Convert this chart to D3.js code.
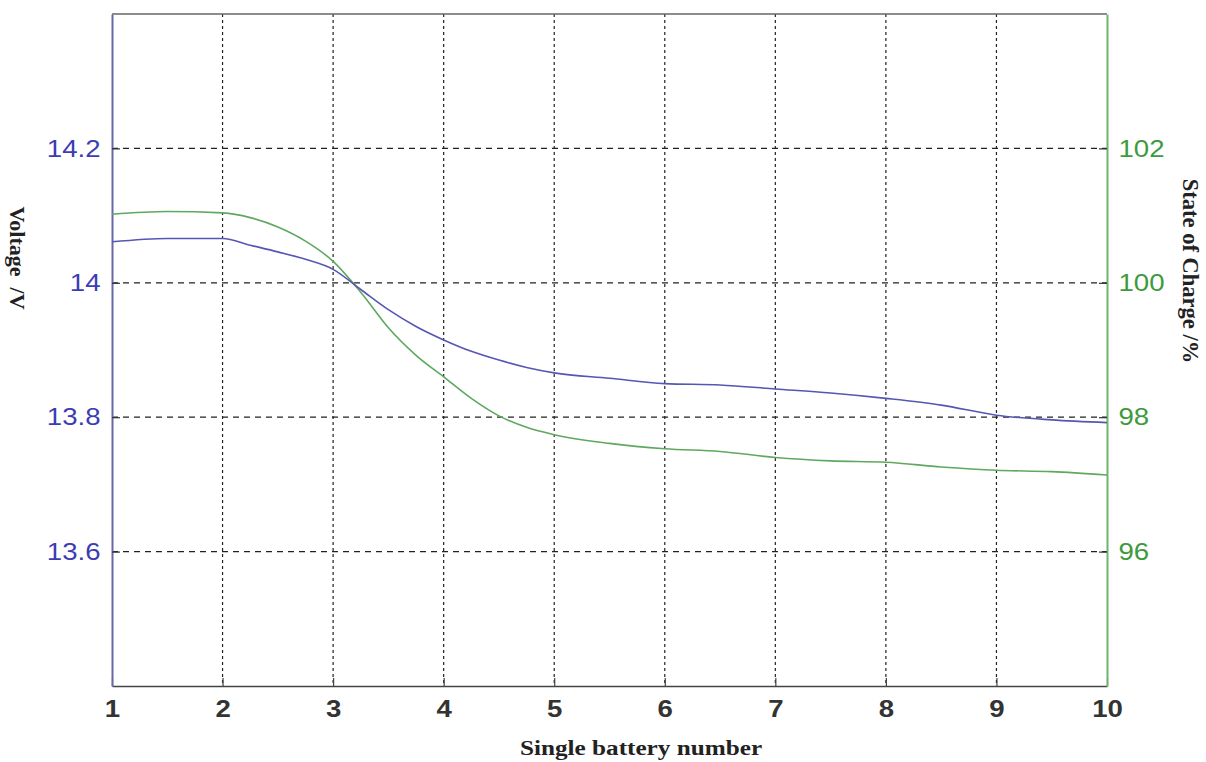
<!DOCTYPE html>
<html>
<head>
<meta charset="utf-8">
<script src="https://cdn.jsdelivr.net/npm/d3@7"></script>
<style>
  html, body { margin: 0; padding: 0; background: #fff; }
  svg { display: block; }
</style>
</head>
<body>
<svg id="chart" width="1206" height="762"></svg>
<script>
// ---- data ----
const batteryNumber = [1, 1.5, 2, 2.25, 2.5, 2.75, 3, 3.25, 3.5, 3.75, 4, 4.25, 4.5, 4.75, 5, 5.5, 6, 6.5, 7, 7.5, 8, 8.5, 9, 9.5, 10];
const voltage = [14.061, 14.066, 14.066, 14.056, 14.046, 14.035, 14.020, 13.990, 13.960, 13.935, 13.915, 13.898, 13.885, 13.874, 13.866, 13.858, 13.850, 13.848, 13.842, 13.836, 13.828, 13.818, 13.803, 13.796, 13.792];
const soc = [101.02, 101.06, 101.04, 100.97, 100.83, 100.62, 100.32, 99.86, 99.33, 98.92, 98.60, 98.28, 98.02, 97.85, 97.74, 97.61, 97.53, 97.49, 97.40, 97.35, 97.33, 97.26, 97.21, 97.19, 97.14];
const xTicks = [1, 2, 3, 4, 5, 6, 7, 8, 9, 10];
const voltageTicks = [13.6, 13.8, 14, 14.2];
const socTicks = [96, 98, 100, 102];
const xLabel = "Single battery number";
const leftLabel = "Voltage  /V";
const rightLabel = "State of Charge /%";

// ---- layout ----
const L = 112, R = 1107, T = 14, B = 686;
const stretch = 1.15;
const svg = d3.select("#chart");

const x = d3.scaleLinear().domain([1, 10]).range([L, R]);
const yV = d3.scaleLinear().domain([13.4, 14.4]).range([B, T]);
const yS = d3.scaleLinear().domain([94, 104]).range([B, T]);

const blue = "#5656b4", green = "#5fa85f";

// grid
const grid = svg.append("g");
grid.selectAll("line.v").data(xTicks.slice(1, -1)).join("line")
  .attr("x1", d => x(d)).attr("x2", d => x(d)).attr("y1", T).attr("y2", B)
  .attr("stroke", "#222").attr("stroke-width", 1.2).attr("stroke-dasharray", "3,3");
grid.selectAll("line.h").data(voltageTicks).join("line")
  .attr("x1", L).attr("x2", R).attr("y1", d => yV(d)).attr("y2", d => yV(d))
  .attr("stroke", "#222").attr("stroke-width", 1.2).attr("stroke-dasharray", "6,5");

// frame top
svg.append("line").attr("x1", L).attr("x2", R).attr("y1", T).attr("y2", T)
  .attr("stroke", "#666").attr("stroke-width", 1.5);

// x axis
const gx = svg.append("g").attr("transform", `translate(0,${B})`)
  .call(d3.axisBottom(x).tickValues(xTicks).tickFormat(d3.format("d")).tickSizeInner(-8).tickSizeOuter(0).tickPadding(14));
gx.select(".domain").attr("stroke", "#444").attr("stroke-width", 1.5);
gx.selectAll(".tick line").attr("stroke", "#444").attr("stroke-width", 1.2);
gx.selectAll(".tick text").attr("fill", "#333").attr("font-family", "Liberation Sans, Arial, sans-serif")
  .attr("font-size", 24).attr("font-weight", "bold").attr("transform", `scale(${stretch},1)`);

// left axis
const gl = svg.append("g").attr("transform", `translate(${L},0)`)
  .call(d3.axisLeft(yV).tickValues(voltageTicks).tickFormat(d => String(d)).tickSizeInner(-8).tickSizeOuter(0).tickPadding(10));
gl.select(".domain").attr("stroke", "#6868a8").attr("stroke-width", 2);
gl.selectAll(".tick line").attr("stroke", "#333").attr("stroke-width", 1.2);
gl.selectAll(".tick text").attr("fill", "#3c3cb4").attr("font-family", "Liberation Sans, Arial, sans-serif")
  .attr("font-size", 24).attr("transform", `scale(${stretch},1)`);

// right axis
const gr = svg.append("g").attr("transform", `translate(${R},0)`)
  .call(d3.axisRight(yS).tickValues(socTicks).tickFormat(d => String(d)).tickSizeInner(-8).tickSizeOuter(0).tickPadding(10));
gr.select(".domain").attr("stroke", "#6fb46f").attr("stroke-width", 2);
gr.selectAll(".tick line").attr("stroke", "#333").attr("stroke-width", 1.2);
gr.selectAll(".tick text").attr("fill", "#3d9a3d").attr("font-family", "Liberation Sans, Arial, sans-serif")
  .attr("font-size", 24).attr("transform", `scale(${stretch},1)`);

// lines
const pts = (ys, scale) => batteryNumber.map((b, i) => [x(b), scale(ys[i])]);
const line = d3.line().curve(d3.curveMonotoneX);
svg.append("path").attr("d", line(pts(soc, yS))).attr("fill", "none")
  .attr("stroke", green).attr("stroke-width", 1.6);
svg.append("path").attr("d", line(pts(voltage, yV))).attr("fill", "none")
  .attr("stroke", blue).attr("stroke-width", 1.6);

// titles
svg.append("text").attr("transform", `translate(641,755) scale(1.2,1)`)
  .attr("text-anchor", "middle").attr("font-family", "Liberation Serif, Times New Roman, serif")
  .attr("font-weight", "bold").attr("font-size", 21).attr("fill", "#222").text(xLabel);
svg.append("text").attr("transform", `translate(10,258) rotate(90)`)
  .attr("xml:space", "preserve")
  .attr("text-anchor", "middle").attr("font-family", "Liberation Serif, Times New Roman, serif")
  .attr("font-weight", "bold").attr("font-size", 22).attr("fill", "#222").text(leftLabel);
svg.append("text").attr("transform", `translate(1183,271) rotate(90)`)
  .attr("text-anchor", "middle").attr("font-family", "Liberation Serif, Times New Roman, serif")
  .attr("font-weight", "bold").attr("font-size", 22.5).attr("fill", "#222").text(rightLabel);
</script>
</body>
</html>
